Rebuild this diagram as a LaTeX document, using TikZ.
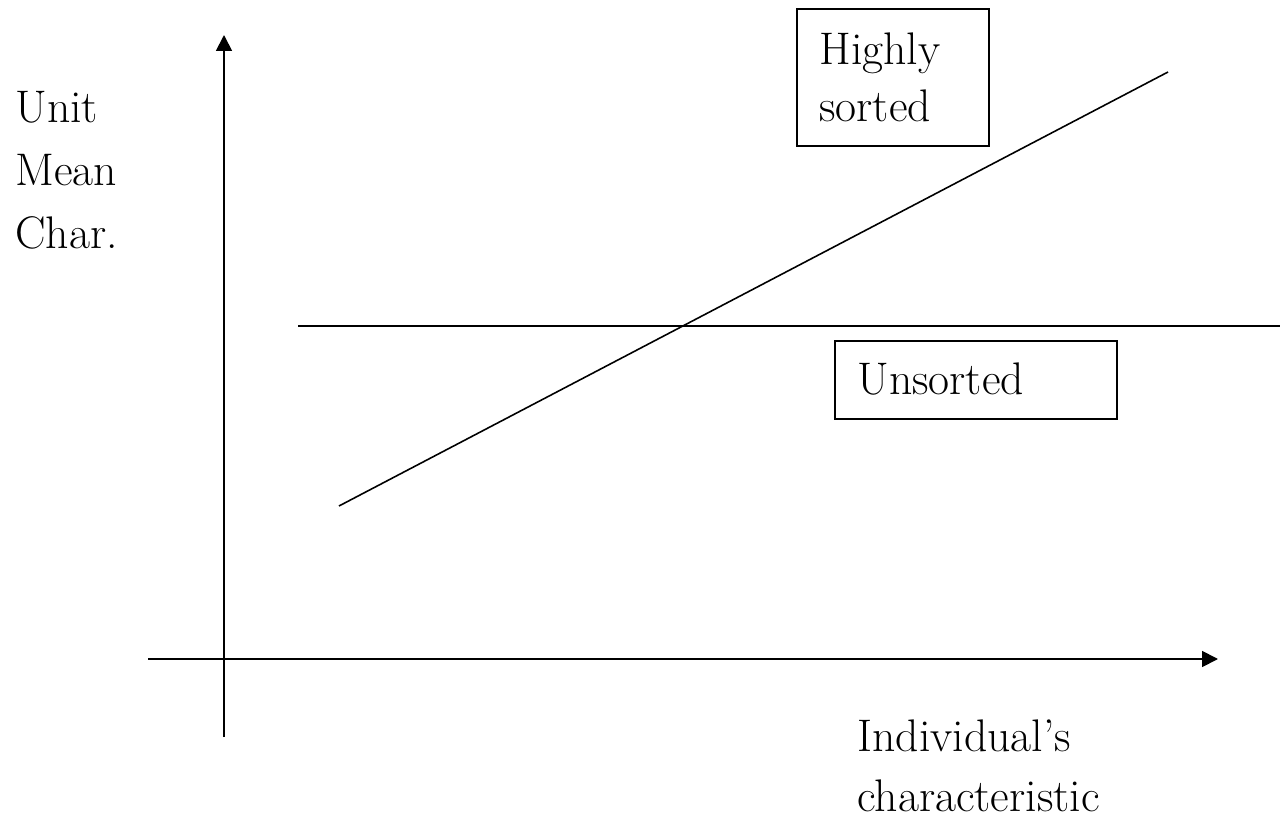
\documentclass[tikz,border=0pt]{standalone}
\usetikzlibrary{arrows.meta}
\begin{document}
\begin{tikzpicture}[x=0.02cm,y=-0.02cm,
  axis/.style={line width=1pt,-{Triangle[length=9pt,width=9pt]}},
  plotline/.style={line width=0.9pt},
  lbl/.style={anchor=base west,inner sep=0pt,font=\fontsize{26}{35}\selectfont},
  boxed/.style={draw,line width=1pt,inner sep=0pt}]
\useasboundingbox (0,0) rectangle (1282,824);
% axes
\coordinate (ybot) at (224,737);
\coordinate (ytop) at (224,35);
\coordinate (xleft) at (148,659);
\coordinate (xright) at (1218,659);
\draw[axis] (ybot) -- (ytop);
\draw[axis] (xleft) -- (xright);
% lines
\coordinate (h1) at (298,326);
\coordinate (h2) at (1280,326);
\draw[plotline] (h1) -- (h2);
\coordinate (d1) at (339,506);
\coordinate (d2) at (1168,72);
\draw[plotline] (d1) -- (d2);
% boxes
\node[boxed,minimum width=192*0.02cm,minimum height=137*0.02cm] (hsbox) at (893,77.5) {};
\node[boxed,minimum width=282*0.02cm,minimum height=78*0.02cm] (usbox) at (976,380) {};
% texts
\node[lbl] (hs1) at (819,65) {Highly};
\node[lbl] (hs2) at (819,122) {sorted};
\node[lbl] (us) at (857,395) {Unsorted};
\node[lbl] (y1) at (15,123) {Unit};
\node[lbl] (y2) at (15,186) {Mean};
\node[lbl] (y3) at (15,249) {Char.};
\node[lbl] (x1) at (857,751) {Individual’s};
\node[lbl] (x2) at (857,811) {characteristic};
\end{tikzpicture}
\end{document}
